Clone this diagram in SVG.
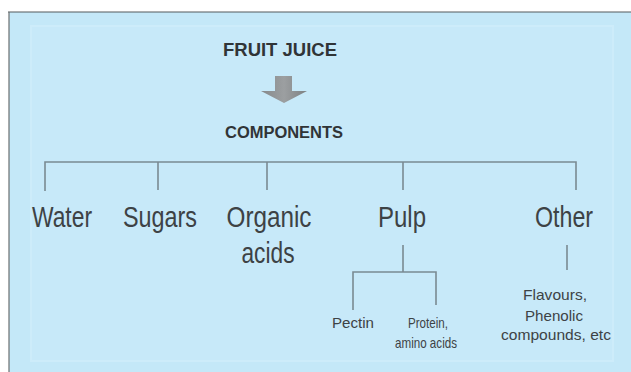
<svg xmlns="http://www.w3.org/2000/svg" width="631" height="372" viewBox="0 0 631 372">
<defs>
<style>
.t{font-family:"Liberation Sans",Arial,sans-serif;fill:#3d4245;text-anchor:middle}
.big{font-size:30px}
.sm{font-size:15px}
.bold{font-weight:bold;fill:#303437}
.c{stroke:#7a8a92;stroke-width:1.6;fill:none}
</style>
<linearGradient id="ag" x1="0" y1="0" x2="1" y2="0">
<stop offset="0" stop-color="#86898b"/>
<stop offset="0.5" stop-color="#9c9fa1"/>
<stop offset="1" stop-color="#7d8183"/>
</linearGradient>
</defs>
<rect x="0" y="0" width="631" height="372" fill="#ffffff"/>
<rect x="9" y="12" width="622" height="360" fill="#c4e8f8"/>
<rect x="31" y="26" width="582" height="335" fill="#c7e9f9" stroke="#cdecfa" stroke-width="2"/>
<line x1="8" y1="12" x2="631" y2="12" stroke="#555a5c" stroke-width="1.2"/>
<line x1="9" y1="12" x2="9" y2="372" stroke="#6a6e70" stroke-width="1.2"/>

<g id="connectors">
<path class="c" d="M45 191 V162 H576 V190"/>
<path class="c" d="M158 162 V190"/>
<path class="c" d="M267 162 V190"/>
<path class="c" d="M403 162 V190"/>
<path class="c" d="M403 245 V272 M353 310 V272 H436 V305"/>
<path class="c" d="M567 245 V270"/>
<polygon points="275,76 292,76 292,91 307,91 284,103 261,91 275,91" fill="url(#ag)"/>
</g>

<g id="fruit-juice"><text class="t bold" x="280" y="56" font-size="19" textLength="114" lengthAdjust="spacingAndGlyphs">FRUIT JUICE</text></g>
<g id="components"><text class="t bold" x="284" y="138" font-size="16" textLength="118" lengthAdjust="spacingAndGlyphs">COMPONENTS</text></g>

<g id="water"><text class="t big" x="62" y="227" textLength="60" lengthAdjust="spacingAndGlyphs">Water</text></g>
<g id="sugars"><text class="t big" x="160" y="227" textLength="74" lengthAdjust="spacingAndGlyphs">Sugars</text></g>
<g id="organic-acids">
<text class="t big" x="269" y="227" textLength="85" lengthAdjust="spacingAndGlyphs">Organic</text>
<text class="t big" x="268" y="263" textLength="53" lengthAdjust="spacingAndGlyphs">acids</text>
</g>
<g id="pulp"><text class="t big" x="402" y="227" textLength="48" lengthAdjust="spacingAndGlyphs">Pulp</text></g>
<g id="other"><text class="t big" x="564" y="227" textLength="58" lengthAdjust="spacingAndGlyphs">Other</text></g>

<g id="pectin"><text class="t sm" x="353" y="328" textLength="42" lengthAdjust="spacingAndGlyphs">Pectin</text></g>
<g id="protein">
<text class="t sm" x="428" y="328" textLength="40" lengthAdjust="spacingAndGlyphs">Protein,</text>
<text class="t sm" x="426" y="348" textLength="62" lengthAdjust="spacingAndGlyphs">amino acids</text>
</g>
<g id="flavours">
<text class="t sm" x="555" y="300" textLength="64" lengthAdjust="spacingAndGlyphs">Flavours,</text>
<text class="t sm" x="554" y="321" textLength="58" lengthAdjust="spacingAndGlyphs">Phenolic</text>
<text class="t sm" x="556" y="340" textLength="110" lengthAdjust="spacingAndGlyphs">compounds, etc</text>
</g>
</svg>
